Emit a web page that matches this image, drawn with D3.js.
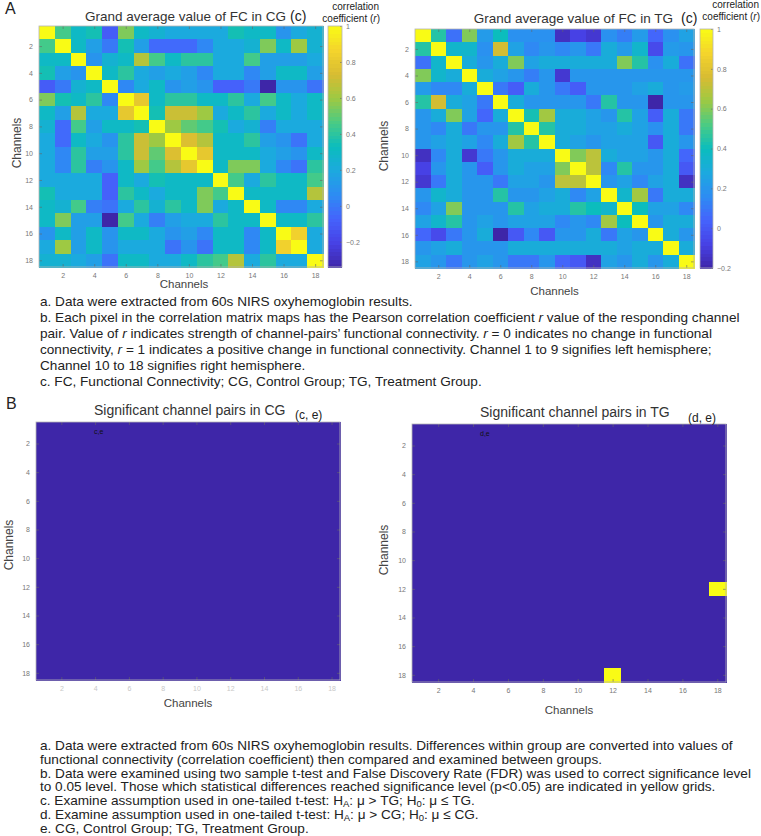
<!DOCTYPE html>
<html>
<head>
<meta charset="utf-8">
<script src="https://cdn.jsdelivr.net/npm/d3@7"></script>
<style>
body { margin: 0; background: #fff; }
svg { display: block; font-family: "Liberation Sans", Arial, Helvetica, sans-serif; }
.tick text { fill: #777; font-size: 7px; }
.tick line { stroke: #666; stroke-width: 0.6; }
.domain { display: none; }
rect.cell, rect.lv { shape-rendering: crispEdges; }
</style>
</head>
<body>
<svg id="fig" width="761" height="836"></svg>
<script>
// channels 1..18, ticks every 2
const channels = d3.range(1, 19);
const channelTicks = [2, 4, 6, 8, 10, 12, 14, 16, 18];
const cbTicks = [-0.2, 0, 0.2, 0.4, 0.6, 0.8, 1];

// grand average FC, control group
const fcCG = [
    [1, .45, .3, .35, -.1, .55, .3, .25, .2, .2, .2, .2, .35, .3, .3, .1, .2, .25],
    [.45, 1, .3, .15, 0, .35, .15, -.05, -.05, -.05, .05, .2, .2, .25, .55, .3, .6, .25],
    [.3, .3, 1, .1, .25, .3, .65, .45, .3, .4, .4, .2, .2, .45, .15, .15, .15, .2],
    [.35, .15, .1, 1, .3, .4, .2, .15, .2, .15, .05, .2, .2, .05, .15, .3, .3, .15],
    [-.1, 0, .25, .3, 1, .05, .2, .3, .1, .15, .1, -.08, -.08, 0, -.34, .1, .1, -.02],
    [.55, .35, .3, .4, .05, 1, .8, .3, .4, .4, .3, .3, .4, .2, .45, .3, .2, .3],
    [.3, .15, .65, .2, .2, .8, 1, .35, .7, .7, .6, .2, .3, .4, .2, .3, .2, .3],
    [.25, -.05, .45, .15, .3, .3, .35, 1, .6, .5, .45, .35, .2, .25, .02, .2, .2, .2],
    [.2, -.05, .3, .2, .1, .4, .7, .6, 1, .75, .65, .3, .3, .4, .15, .1, -.02, .2],
    [.2, .05, .4, .15, .15, .4, .7, .5, .75, 1, .8, .3, .3, .3, .2, .15, .1, .3],
    [.2, .05, .4, .02, .1, .3, .6, .45, .65, .8, 1, .3, .55, .55, .2, .05, -.02, .4],
    [.2, .2, .2, .2, -.08, .3, .2, .35, .3, .3, .3, 1, .45, .2, .4, .3, .3, .45],
    [.35, .2, .2, .2, -.08, .4, .3, .2, .3, .3, .55, .45, 1, .3, .3, .3, .3, .65],
    [.3, .25, .45, .02, -.02, .2, .4, .25, .4, .3, .55, .2, .3, 1, .3, .05, .05, .2],
    [.3, .55, .15, .15, -.34, .45, .2, .02, .15, .2, .2, .4, .3, .3, 1, .3, .3, .4],
    [.1, .3, .15, .3, .1, .3, .3, .2, .1, .15, .05, .3, .3, .05, .3, 1, .85, .2],
    [.2, .6, .15, .3, .1, .2, .2, .2, -.02, .1, -.02, .3, .3, .05, .3, .85, 1, .2],
    [.25, .25, .2, .15, -.02, .3, .3, .2, .2, .3, .4, .45, .65, .2, .4, .2, .2, 1]
];

// grand average FC, treatment group
const fcTG = [
    [1, .45, .08, .6, .22, .4, .18, .18, .18, -.15, -.08, -.12, .18, .12, .22, .05, .18, .25],
    [.45, 1, .35, .35, .18, .75, .25, .15, .2, .15, .2, .1, .3, .22, .35, -.05, .22, .2],
    [.08, .35, 1, .3, .2, .3, .6, .25, .3, .3, .3, .3, .3, .6, .45, .18, .3, .08],
    [.6, .35, .3, 1, .3, .25, .2, .12, .2, -.12, .2, .2, .2, .2, .2, .2, .2, .2],
    [.22, .15, .15, .3, 1, .1, .02, .3, .2, .1, .02, .2, .2, .2, .25, .3, .2, .22],
    [.45, .75, .3, .25, .1, 1, .3, .2, .2, .2, .2, .1, .45, .2, .2, -.2, .2, .2],
    [.2, .3, .6, .25, .05, .3, 1, .42, .65, .3, .3, .25, .2, .45, .25, .02, .3, .1],
    [.2, .15, .3, .1, .2, .2, .45, 1, .45, .3, .3, .25, .25, .3, .25, .18, .3, .1],
    [.2, .25, .3, .25, .15, .3, .65, .45, 1, .3, .25, .2, .25, .25, .25, 0, .3, .2],
    [-.15, .15, .3, -.12, .1, .2, .3, .3, .3, 1, .6, .7, .3, .25, .25, .2, .3, .05],
    [-.08, .2, .3, .2, .02, .2, .3, .25, .25, .6, 1, .7, .15, .45, .2, .2, .3, 0],
    [-.12, .1, .3, .2, .2, .1, .25, .25, .2, .7, .7, 1, .2, .25, .15, .25, .3, -.15],
    [.2, .35, .3, .2, .2, .45, .2, .2, .25, .3, .15, .25, 1, .35, .65, .1, .3, .3],
    [.15, .25, .6, .2, .2, .2, .45, .25, .3, .3, .45, .4, .35, 1, .4, .25, .25, .15],
    [.25, .35, .45, .2, .25, .2, .25, .25, .25, .15, .2, .15, .65, .4, 1, .2, .3, .3],
    [.05, -.05, .1, .2, .3, -.2, 0, .15, 0, .2, .2, .3, .1, .25, .2, 1, .3, .2],
    [.2, .25, .3, .2, .2, .2, .3, .3, .3, .3, .3, .3, .3, .25, .3, .3, 1, .3],
    [.25, .2, .1, .2, .25, .2, .1, .1, .2, .05, 0, -.15, .25, .2, .3, .2, .3, 1]
];

// significant channel pairs [row, col]
const sigPairsCG = [];
const sigPairsTG = [[12, 18], [18, 12]];

const notesA = [
    "a. Data were extracted from 60s NIRS oxyhemoglobin results.",
    "b. Each pixel in the correlation matrix maps has the Pearson correlation coefficient *r* value of the responding channel",
    "pair.  Value of *r* indicates strength of channel-pairs’ functional connectivity. *r* = 0 indicates no change in functional",
    "connectivity, *r* = 1 indicates a positive change in functional connectivity. Channel 1 to 9 signifies left hemisphere;",
    "Channel 10 to 18 signifies right hemisphere.",
    "c. FC, Functional Connectivity; CG, Control Group; TG, Treatment Group."
];
const notesB = [
    "a. Data were extracted from 60s NIRS oxyhemoglobin results. Differences within group are converted into values of",
    "functional connectivity (correlation coefficient) then compared and examined between groups.",
    "b. Data were examined using two sample t-test and False Discovery Rate (FDR) was used to correct significance level",
    "to 0.05 level. Those which statistical differences reached significance level (p<0.05) are indicated in yellow grids.",
    "c. Examine assumption used in one-tailed t-test: H_{A}: μ > TG; H_{0}: μ ≤ TG.",
    "d. Examine assumption used in one-tailed t-test: H_{A}: μ > CG; H_{0}: μ ≤ CG.",
    "e. CG, Control Group; TG, Treatment Group."
];

// MATLAB parula, sampled
const parula = d3.piecewise(d3.interpolateRgb, [
    "#3e26a8", "#4741e5", "#4563fc", "#2d8cf3", "#1ca9df", "#0bbdbd",
    "#4acb84", "#9dc943", "#d8bc32", "#f4d42c", "#f9fb15"
]);

const svg = d3.select("#fig");
svg.append("rect").attr("width", 761).attr("height", 836).attr("fill", "#fff");

function pairsToMatrix(pairs) {
    const m = channels.map(() => channels.map(() => 0));
    pairs.forEach(([r, c]) => { m[r - 1][c - 1] = 1; });
    return m;
}

function heatmap(o) {
    const g = svg.append("g").attr("transform", `translate(${o.x},${o.y})`);
    const x = d3.scaleBand().domain(channels).range([0, o.w]);
    const y = d3.scaleBand().domain(channels).range([0, o.h]);
    const color = d3.scaleSequential(parula).domain(o.domain);

    const cells = o.matrix.flatMap((row, i) => row.map((v, j) => ({ r: channels[i], c: channels[j], v })));
    g.selectAll("rect.cell").data(cells).join("rect")
        .attr("class", "cell")
        .attr("x", d => x(d.c))
        .attr("y", d => y(d.r))
        .attr("width", x.bandwidth() + 0.5)
        .attr("height", y.bandwidth() + 0.5)
        .attr("fill", d => color(d.v));

    // axes at channel centres, inward ticks like MATLAB
    const xl = d3.scaleLinear().domain([0.5, 18.5]).range([0, o.w]);
    const yl = d3.scaleLinear().domain([0.5, 18.5]).range([0, o.h]);
    const xAx = g.append("g").attr("transform", `translate(0,${o.h})`)
        .call(d3.axisBottom(xl).tickValues(channelTicks).tickSize(-3).tickPadding(6));
    if (o.faintX) xAx.selectAll("text").style("fill", "#c8c8c8");
    g.append("g").call(d3.axisTop(xl).tickValues(channelTicks).tickSize(-3).tickFormat(""));
    g.append("g").call(d3.axisLeft(yl).tickValues(channelTicks).tickSize(-3).tickPadding(6));
    g.append("g").attr("transform", `translate(${o.w},0)`)
        .call(d3.axisRight(yl).tickValues(channelTicks).tickSize(-3).tickFormat(""));
    g.append("rect").attr("width", o.w).attr("height", o.h)
        .attr("fill", "none").attr("stroke", "#b5b5b5").attr("stroke-width", 0.8);

    // axis titles
    svg.append("text").attr("x", o.x + o.w / 2 + (o.xlabDx || 0)).attr("y", o.xlabY)
        .attr("text-anchor", "middle").attr("font-size", 11.5).attr("fill", "#444").text("Channels");
    svg.append("text").attr("transform", `translate(${o.ylabX},${o.ylabY}) rotate(-90)`)
        .attr("text-anchor", "middle").attr("font-size", 12).attr("fill", "#444").text("Channels");

    if (o.cb) {
        const cg = svg.append("g").attr("transform", `translate(${o.cb.x},${o.y})`);
        const cs = d3.scaleLinear().domain(o.domain).range([o.h, 0]);
        const levels = d3.range(64).map(i => o.domain[0] + (i + 0.5) * (o.domain[1] - o.domain[0]) / 64);
        const step = o.h / 64;
        cg.selectAll("rect.lv").data(levels).join("rect")
            .attr("class", "lv")
            .attr("x", 0).attr("y", d => cs(d) - step / 2)
            .attr("width", o.cb.w).attr("height", step + 0.5)
            .attr("fill", d => color(d));
        cg.append("g").attr("transform", `translate(${o.cb.w},0)`)
            .call(d3.axisRight(cs).tickValues(cbTicks.filter(t => t >= o.domain[0] - 1e-9)).tickSize(-2).tickPadding(4).tickFormat(d3.format("~g")));
        cg.append("rect").attr("width", o.cb.w).attr("height", o.h)
            .attr("fill", "none").attr("stroke", "#b5b5b5").attr("stroke-width", 0.8);
    }
}

function richLine(x, y, str, size, fill, anchor) {
    const t = svg.append("text").attr("x", x).attr("y", y).attr("font-size", size)
        .attr("fill", fill || "#222").attr("text-anchor", anchor || "start");
    let shift = 0;
    str.split(/(\*[^*]+\*|_\{[^}]+\})/).filter(s => s.length).forEach(s => {
        if (s.startsWith("*")) {
            t.append("tspan").attr("font-style", "italic").attr("dy", -shift).text(s.slice(1, -1));
            shift = 0;
        } else if (s.startsWith("_{")) {
            t.append("tspan").attr("dy", 2 - shift).attr("font-size", size * 0.7).text(s.slice(2, -1));
            shift = 2;
        } else {
            t.append("tspan").attr("dy", -shift).text(s);
            shift = 0;
        }
    });
    return t;
}

// ---- panel A ----
svg.append("text").attr("x", 5).attr("y", 14).attr("font-size", 16).attr("fill", "#222").text("A");

heatmap({
    x: 39, y: 26, w: 284, h: 241, matrix: fcCG, domain: d3.extent(fcCG.flat()),
    cb: { x: 328, w: 14 }, xlabY: 288, ylabX: 21, ylabY: 143, xlabDx: 3
});
richLine(286, 21, "Grand average value of FC in CG", 13.5, "#333", "end");
richLine(290, 21, "(c)", 14, "#222");
richLine(379, 10, "correlation", 10, "#222", "end");
richLine(380, 22, "coefficient (*r*)", 10, "#222", "end");

heatmap({
    x: 415, y: 29, w: 279, h: 239, matrix: fcTG, domain: d3.extent(fcTG.flat()),
    cb: { x: 700, w: 13 }, xlabY: 295, ylabX: 388, ylabY: 146
});
richLine(673, 23, "Grand average value of FC in TG", 13.5, "#333", "end");
richLine(681, 23, "(c)", 14, "#222");
richLine(759, 8, "correlation", 10, "#222", "end");
richLine(760, 20, "coefficient (*r*)", 10, "#222", "end");

notesA.forEach((s, i) => richLine(40, 306 + i * 16, s, 13.6));

// ---- panel B ----
svg.append("text").attr("x", 6).attr("y", 409).attr("font-size", 16).attr("fill", "#222").text("B");

heatmap({
    x: 36, y: 422, w: 304, h: 258, matrix: pairsToMatrix(sigPairsCG), domain: [0, 1],
    xlabY: 707, ylabX: 13, ylabY: 545, faintX: true
});
richLine(94, 415, "Significant channel pairs in CG", 14, "#333");
richLine(295, 419, "(c, e)", 12, "#222");
richLine(94, 434, "c,e", 7, "#111");

heatmap({
    x: 412, y: 424, w: 314, h: 258, matrix: pairsToMatrix(sigPairsTG), domain: [0, 1],
    xlabY: 714, ylabX: 388, ylabY: 550
});
richLine(480, 417, "Significant channel pairs in TG", 14, "#333");
richLine(688, 422, "(d, e)", 12, "#222");
richLine(480, 436, "d,e", 7, "#111");

notesB.forEach((s, i) => richLine(40, 750 + i * 13.8, s, 13.6));
</script>
</body>
</html>
